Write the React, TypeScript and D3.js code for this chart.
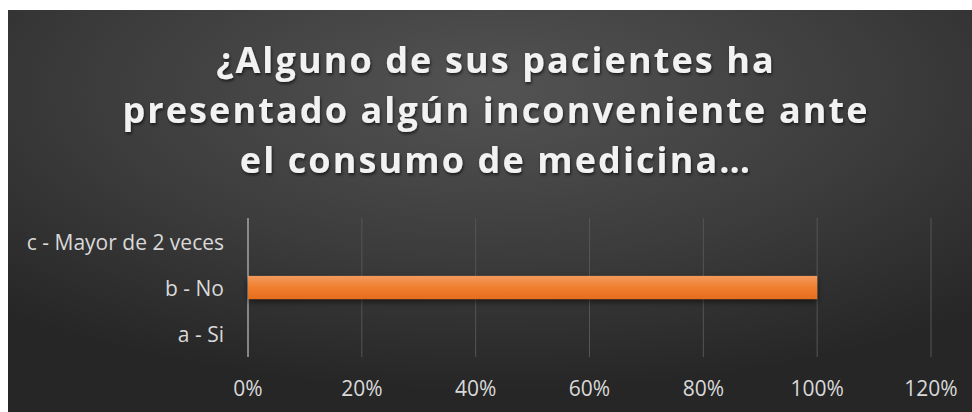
import React from "react";
import * as d3 from "d3";

const categories = ["a - Si", "b - No", "c - Mayor de 2 veces"];
const values = [0, 1, 0];
const tickValues = [0, 0.2, 0.4, 0.6, 0.8, 1.0, 1.2];
const titleLines = [
  "¿Alguno de sus pacientes ha",
  "presentado algún inconveniente ante",
  "el consumo de medicina…",
];

const W = 972;
const H = 412;

export default function App() {
  const x = d3.scaleLinear().domain([0, 1.2]).range([248, 931]);
  const y = d3
    .scaleBand<string>()
    .domain([...categories].reverse())
    .range([218, 357])
    .paddingInner(0.5)
    .paddingOuter(0.25);
  const fmt = d3.format(".0%");
  const font = "'Open Sans', sans-serif";

  return (
    <svg
      width={W}
      height={H}
      style={{ position: "fixed", left: 0, top: 0, background: "#fff" }}
    >
      <defs>
        <radialGradient id="bg" cx="0.5" cy="0.2" r="0.75" gradientUnits="objectBoundingBox">
          <stop offset="0" stopColor="#535353" />
          <stop offset="0.55" stopColor="#3c3c3c" />
          <stop offset="1" stopColor="#262626" />
        </radialGradient>
        <linearGradient id="barg" x1="0" y1="0" x2="0" y2="1">
          <stop offset="0" stopColor="#f39a5c" />
          <stop offset="0.5" stopColor="#f07f2f" />
          <stop offset="1" stopColor="#e56d1e" />
        </linearGradient>
        <filter id="shadow" x="-10%" y="-50%" width="120%" height="250%">
          <feDropShadow dx="0" dy="3" stdDeviation="3" floodColor="#000" floodOpacity="0.55" />
        </filter>
        <filter id="tshadow" x="-5%" y="-30%" width="110%" height="160%">
          <feDropShadow dx="1" dy="2" stdDeviation="1.5" floodColor="#000" floodOpacity="0.6" />
        </filter>
      </defs>
      <rect x={8} y={10} width={W - 8} height={H - 10} fill="url(#bg)" />

      <g filter="url(#tshadow)">
        {titleLines.map((t, i) => (
          <text
            key={i}
            x={496}
            y={73 + i * 50}
            textAnchor="middle"
            fill="#f2f2f2"
            fontFamily={font}
            fontWeight="bold"
            fontSize={36}
            letterSpacing={2.1}
          >
            {t}
          </text>
        ))}
      </g>

      {tickValues.map((t) => (
        <line
          key={"g" + t}
          x1={x(t)}
          x2={x(t)}
          y1={218}
          y2={357}
          stroke={t === 0 ? "#a6a6a6" : "#555555"}
          strokeWidth={t === 0 ? 1.5 : 1}
        />
      ))}

      {categories.map((c, i) => (
        <rect
          key={"b" + c}
          x={x(0)}
          y={y(c)}
          width={Math.max(0, x(values[i]) - x(0))}
          height={y.bandwidth()}
          fill="url(#barg)"
          filter={values[i] > 0 ? "url(#shadow)" : undefined}
        />
      ))}

      {categories.map((c) => (
        <text
          key={"l" + c}
          x={224}
          y={(y(c) as number) + y.bandwidth() / 2 + 8.5}
          textAnchor="end"
          fill="#d9d9d9"
          fontFamily={font}
          fontSize={21}
        >
          {c}
        </text>
      ))}

      {tickValues.map((t) => (
        <text
          key={"t" + t}
          x={x(t)}
          y={396}
          textAnchor="middle"
          fill="#d9d9d9"
          fontFamily={font}
          fontSize={21}
        >
          {fmt(t)}
        </text>
      ))}
    </svg>
  );
}
